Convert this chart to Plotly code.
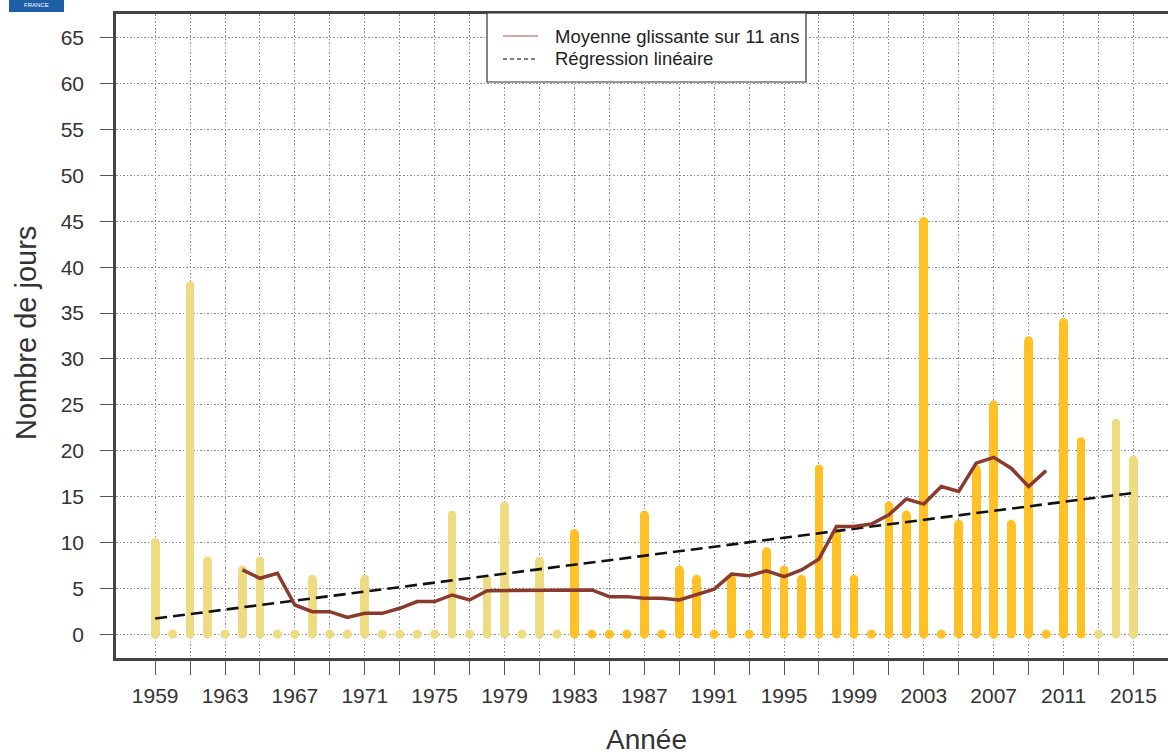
import plotly.graph_objects as go

# ---------------- data ----------------
annees = list(range(1959, 2016))
jours = [10, 0, 38, 8, 0, 7, 8, 0, 0, 6,
         0, 0, 6, 0, 0, 0, 0, 13, 0, 6,
         14, 0, 8, 0, 11, 0, 0, 0, 13, 0,
         7, 6, 0, 6, 0, 9, 7, 6, 18, 11,
         6, 0, 14, 13, 45, 0, 12, 18, 25, 12,
         32, 0, 34, 21, 0, 23, 19]

annees_moyenne = list(range(1964, 2011))
moyenne_glissante = [7.00, 6.09, 6.64, 3.18, 2.45, 2.45, 1.82, 2.27, 2.27, 2.82,
                     3.55, 3.55, 4.27, 3.73, 4.73, 4.73, 4.73, 4.73, 4.73, 4.73,
                     4.82, 4.09, 4.09, 3.91, 3.91, 3.73, 4.36, 4.91, 6.55, 6.36,
                     6.91, 6.27, 7.00, 8.18, 11.73, 11.73, 12.00, 13.00, 14.73, 14.18,
                     16.09, 15.55, 18.64, 19.27, 18.09, 16.09, 17.82]

annees_regression = [1959, 2015]
regression = [1.7, 15.4]

x_ticks = list(range(1959, 2016, 4))
x_minor_ticks = list(range(1961, 2016, 4))
y_ticks = list(range(0, 70, 5))

legende = ["Moyenne glissante sur 11 ans", "Régression linéaire"]

# ---------------- style ----------------
W, H = 1168, 756
ML, MR, MT, MB = 116, 0, 14, 98
PX_PER_YEAR = 17.47
x0 = 1956.76
x1 = x0 + (W - ML - MR) / PX_PER_YEAR
y0, y1 = -2.6, 67.6

PALE = "#EEDC82"
ORANGE = "#FFC125"
couleurs = [ORANGE if 1983 <= a <= 2012 else PALE for a in annees]

FONT = "Liberation Sans, Arial, sans-serif"
TXT = "#333333"
GRID = "#8a8a8a"
AXIS = "#444444"

def px_x(px):
    return (px - ML) / (W - ML - MR)

def px_y(py):
    return (H - MB - py) / (H - MB - MT)

fig = go.Figure()

# bars (thick lines with round ends)
fig.add_trace(go.Bar(x=annees, y=jours, width=0.5, marker=dict(color=couleurs, line=dict(width=0)),
                     showlegend=False, hoverinfo="x+y"))
fig.add_trace(go.Scatter(x=annees, y=jours, mode="markers",
                         marker=dict(size=8.7, color=couleurs, line=dict(width=0)),
                         showlegend=False, hoverinfo="skip"))
fig.add_trace(go.Scatter(x=annees, y=[0] * len(annees), mode="markers",
                         marker=dict(size=8.7, color=couleurs, line=dict(width=0)),
                         showlegend=False, hoverinfo="skip"))

# regression line
fig.add_trace(go.Scatter(x=annees_regression, y=regression, mode="lines",
                         line=dict(color="#111111", width=2.6, dash="12px,6px"),
                         showlegend=False))
# moving average
fig.add_trace(go.Scatter(x=annees_moyenne, y=moyenne_glissante, mode="lines",
                         line=dict(color="#8b3a2e", width=3.5),
                         showlegend=False))

fig.update_layout(
    width=W, height=H,
    margin=dict(l=ML, r=MR, t=MT, b=MB, pad=0),
    paper_bgcolor="white", plot_bgcolor="white",
    font=dict(family=FONT, color=TXT, size=21),
    bargap=0,
    showlegend=False,
    xaxis=dict(range=[x0, x1], tickmode="array", tickvals=x_ticks,
               ticktext=[str(v) for v in x_ticks],
               ticks="outside", ticklen=14, tickwidth=1, tickcolor="#555555",
               ticklabelstandoff=3,
               showgrid=True, gridcolor=GRID, gridwidth=1, griddash="1.5px,2px",
               minor=dict(tickmode="array", tickvals=x_minor_ticks, ticks="outside",
                          ticklen=14, tickwidth=1, tickcolor="#555555",
                          showgrid=True, gridcolor=GRID, gridwidth=1, griddash="1.5px,2px"),
               showline=True, linecolor=AXIS, linewidth=2.5, mirror=True,
               zeroline=False, tickfont=dict(size=21, color=TXT)),
    yaxis=dict(range=[y0, y1], tickmode="array", tickvals=y_ticks,
               ticktext=[str(v) for v in y_ticks],
               ticks="outside", ticklen=13, tickwidth=1, tickcolor="#555555",
               ticklabelstandoff=12,
               showgrid=True, gridcolor=GRID, gridwidth=1, griddash="1.5px,2px",
               showline=True, linecolor=AXIS, linewidth=2.5,
               zeroline=False, tickfont=dict(size=21, color=TXT)),
)

# manual legend box
fig.add_shape(type="rect", xref="paper", yref="paper",
              x0=px_x(487), x1=px_x(806), y0=px_y(82), y1=px_y(13),
              fillcolor="white", line=dict(color="#333333", width=1.2), layer="above")
fig.add_shape(type="line", xref="paper", yref="paper",
              x0=px_x(503), x1=px_x(538), y0=px_y(36), y1=px_y(36),
              line=dict(color="#c58b7c", width=1.6), layer="above")
fig.add_shape(type="line", xref="paper", yref="paper",
              x0=px_x(503), x1=px_x(538), y0=px_y(59), y1=px_y(59),
              line=dict(color="#555555", width=1.6, dash="4px,3px"), layer="above")
for i, txt in enumerate(legende):
    fig.add_annotation(text=txt, xref="paper", yref="paper", x=px_x(553), y=px_y(36 + 23 * i),
                       xanchor="left", yanchor="middle", showarrow=False,
                       font=dict(size=18.5, color="#222222"))

# axis titles
fig.add_annotation(text="Année", xref="paper", yref="paper", x=px_x(646), y=px_y(739),
                   xanchor="center", yanchor="middle", showarrow=False,
                   font=dict(size=28, color=TXT))
fig.add_annotation(text="Nombre de jours", xref="paper", yref="paper", x=px_x(26), y=px_y(333),
                   xanchor="center", yanchor="middle", showarrow=False, textangle=-90,
                   font=dict(size=29, color=TXT))

# logo fragment (top-left)
fig.add_shape(type="rect", xref="paper", yref="paper",
              x0=px_x(9), x1=px_x(64), y0=px_y(12), y1=px_y(-5),
              fillcolor="#1f5fa8", line=dict(width=0), layer="above")
fig.add_annotation(text="FRANCE", xref="paper", yref="paper", x=px_x(36.5), y=px_y(5),
                   xanchor="center", yanchor="middle", showarrow=False,
                   font=dict(size=6, color="white"))

fig.write_html("out.html", config={"displayModeBar": False},
               post_script="document.body.style.margin='0';document.body.style.overflow='hidden';")
